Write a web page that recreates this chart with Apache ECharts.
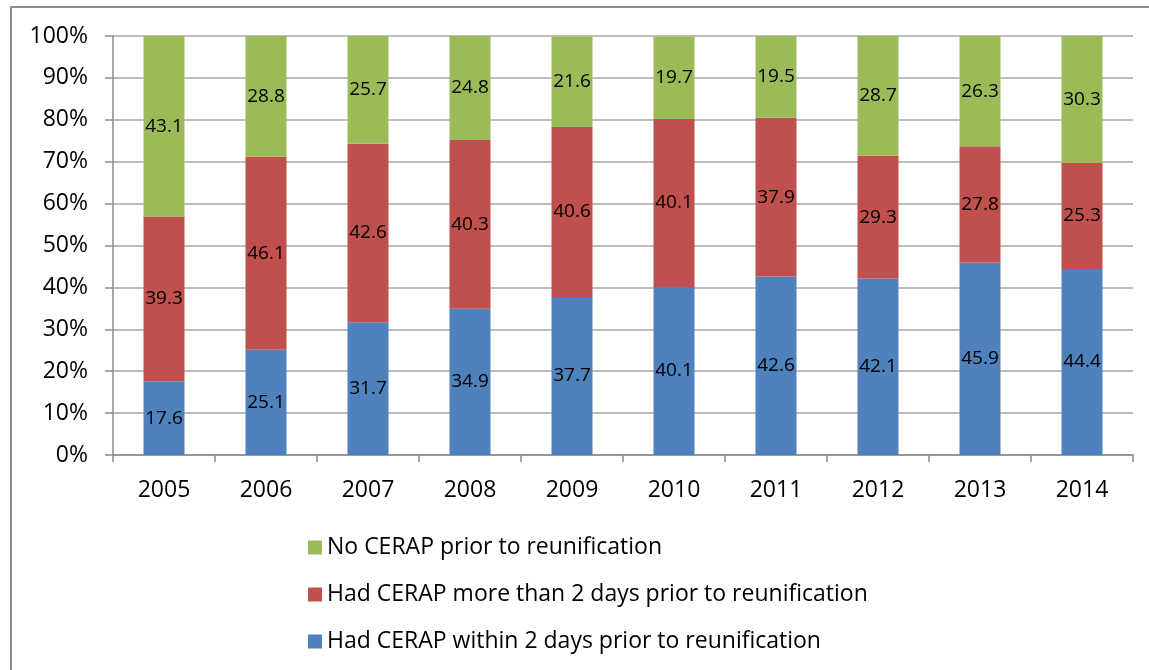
<!DOCTYPE html>
<html><head><meta charset="utf-8">
<script src="https://cdn.jsdelivr.net/npm/echarts@6/dist/echarts.min.js"></script>
<style>html,body{margin:0;padding:0;background:#fff}#c{width:1149px;height:670px}</style>
</head><body><div id="c"></div>
<script>
const years = ['2005','2006','2007','2008','2009','2010','2011','2012','2013','2014'];
const within2 = [17.6,25.1,31.7,34.9,37.7,40.1,42.6,42.1,45.9,44.4];
const more2 = [39.3,46.1,42.6,40.3,40.6,40.1,37.9,29.3,27.8,25.3];
const noCerap = [43.1,28.8,25.7,24.8,21.6,19.7,19.5,28.7,26.3,30.3];
const names = ['Had CERAP within 2 days prior to reunification','Had CERAP more than 2 days prior to reunification','No CERAP prior to reunification'];
const colors = ['#4F81BD','#C0504D','#9BBB59'];
const FONT = 'Open Sans';
const chart = echarts.init(document.getElementById('c'));
const mk = (name, data, color) => ({
  name, type:'bar', stack:'t', data, barWidth:41,
  itemStyle:{color},
  label:{show:true, position:'inside', color:'#000', fontSize:19, fontFamily:FONT, formatter:p=>p.value.toFixed(1)}
});
chart.setOption({
  animation:false,
  textStyle:{fontFamily:FONT},
  graphic:[{type:'rect', shape:{x:11,y:7,width:1200,height:700}, style:{fill:null, stroke:'#8c8c8c', lineWidth:2}, z:-1}],
  grid:{left:113, right:16, top:36, bottom:215},
  legend:{orient:'vertical', left:303, top:531, itemWidth:14, itemHeight:14, itemGap:24,
    data:[names[2],names[1],names[0]], icon:'rect',
    textStyle:{fontSize:23, color:'#000', fontFamily:FONT}},
  xAxis:{type:'category', data:years,
    axisLine:{lineStyle:{color:'#8c8c8c', width:1.5}},
    axisTick:{show:true, length:7, lineStyle:{color:'#8c8c8c', width:1.5}},
    axisLabel:{fontSize:23, color:'#000', margin:24, fontFamily:FONT}},
  yAxis:{type:'value', min:0, max:100, interval:10,
    axisLine:{show:true, lineStyle:{color:'#8c8c8c', width:1.5}},
    axisTick:{show:true, length:8, lineStyle:{color:'#8c8c8c', width:1.5}},
    splitLine:{lineStyle:{color:'#a6a6a6', width:1.5}},
    axisLabel:{fontSize:23, color:'#000', margin:25, formatter:'{value}%', fontFamily:FONT}},
  series:[mk(names[0],within2,colors[0]), mk(names[1],more2,colors[1]), mk(names[2],noCerap,colors[2])]
});
</script></body></html>
